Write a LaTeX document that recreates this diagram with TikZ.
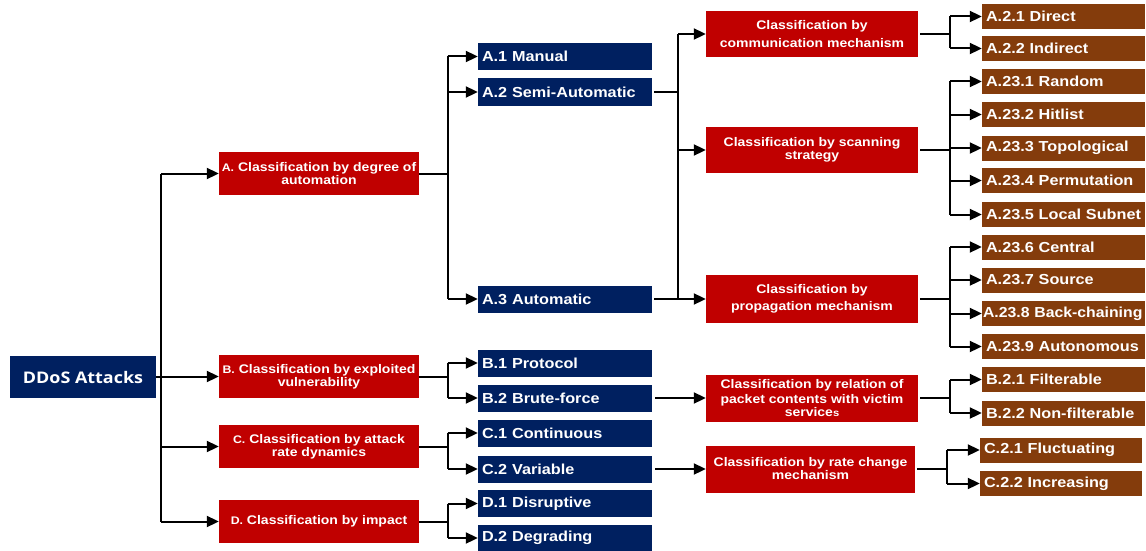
\documentclass[tikz,border=0pt]{standalone}
\usepackage{fontspec}
\setmainfont{Liberation Sans}
\newfontfamily\boxfont[FakeStretch=1.12]{Liberation Sans}
\newfontfamily\ddosfont[FakeStretch=1.12]{Open Sans}
\usetikzlibrary{arrows.meta}
\definecolor{cnavy}{HTML}{002060}
\definecolor{cred}{HTML}{C00000}
\definecolor{cbrown}{HTML}{843C0C}
\newcommand{\smalllead}[1]{{\fontsize{11}{13}\selectfont #1}}
\tikzset{
  basebox/.style={inner sep=0pt, text=white},
  redbox/.style={basebox, fill=cred, align=center, minimum width=200pt, minimum height=43pt,
    font=\boxfont\bfseries\fontsize{12.5}{13}\selectfont},
  bluebox/.style={basebox, fill=cnavy, inner xsep=4pt, text width=166pt, align=left,
    minimum height=27pt, font=\boxfont\bfseries\fontsize{14.5}{16}\selectfont},
  brownbox/.style={basebox, fill=cbrown, inner xsep=4pt, text width=155pt, align=left,
    minimum height=25pt, font=\boxfont\bfseries\fontsize{14.5}{16}\selectfont},
  ddosbox/.style={basebox, fill=cnavy, minimum width=146pt, minimum height=42pt,
    font=\ddosfont\bfseries\fontsize{16}{18}\selectfont},
  link/.style={line width=2pt, black},
  arr/.style={link, -{Triangle[length=12pt,width=11pt]}}
}
\begin{document}
\begin{tikzpicture}[x=1pt,y=-1pt]
\useasboundingbox (0,0) rectangle (1146,551);
% level 0
\node[ddosbox] (DD) at (83,377) {DDoS Attacks};
% level 1
\node[redbox] (A) at (319,173.5) {\smalllead{A.} Classification by degree of\\automation};
\node[redbox] (B) at (319,376.5) {\smalllead{B.} Classification by exploited\\vulnerability};
\node[redbox] (C) at (319,446.5) {\smalllead{C.} Classification by attack\\rate dynamics};
\node[redbox] (D) at (319,521.5) {\smalllead{D.} Classification by impact};
% level 2
\node[bluebox] (A1) at (565,56.5) {A.1 Manual};
\node[bluebox] (A2) at (565,92) {A.2 Semi-Automatic};
\node[bluebox] (A3) at (565,299) {A.3 Automatic};
\node[bluebox] (B1) at (565,363) {B.1 Protocol};
\node[bluebox] (B2) at (565,398) {B.2 Brute-force};
\node[bluebox] (C1) at (565,433) {C.1 Continuous};
\node[bluebox] (C2) at (565,469) {C.2 Variable};
\node[bluebox] (D1) at (565,503.5) {D.1 Disruptive};
\node[bluebox] (D2) at (565,538) {D.2 Degrading};
% level 3
\node[redbox, minimum width=212pt, minimum height=46pt] (Comm) at (812,34) {Classification by\\[5pt]communication mechanism};
\node[redbox, minimum width=212pt, minimum height=46pt] (Scan) at (812,150) {Classification by scanning\\strategy};
\node[redbox, minimum width=212pt, minimum height=48pt] (Prop) at (812,299) {Classification by\\[4pt]propagation mechanism};
\node[redbox, minimum width=212pt, minimum height=47pt] (Rel) at (812,398) {Classification by relation of\\[1.5pt]packet contents with victim\\service{\fontsize{10}{13}\selectfont s}};
\node[redbox, minimum width=209pt, minimum height=47pt] (Rate) at (810.5,469) {Classification by rate change\\mechanism};
% level 4
\node[brownbox] (A21) at (1063.5,16.5) {A.2.1 Direct};
\node[brownbox] (A22) at (1063.5,48.5) {A.2.2 Indirect};
\node[brownbox] (A231) at (1063.5,81.5) {A.23.1 Random};
\node[brownbox] (A232) at (1063.5,114.5) {A.23.2 Hitlist};
\node[brownbox] (A233) at (1063.5,148) {A.23.3 Topological};
\node[brownbox] (A234) at (1063.5,180.5) {A.23.4 Permutation};
\node[brownbox] (A235) at (1063.5,214.5) {A.23.5 Local Subnet};
\node[brownbox] (A236) at (1063.5,247) {A.23.6 Central};
\node[brownbox] (A237) at (1063.5,280) {A.23.7 Source};
\node[brownbox, inner xsep=1pt, text width=161pt] (A238) at (1063.5,313.5) {\makebox[161pt][l]{\addfontfeature{FakeStretch=1.09}A.23.8 Back-chaining}};
\node[brownbox] (A239) at (1063.5,346.5) {A.23.9 Autonomous};
\node[brownbox] (B21) at (1063.5,379.5) {B.2.1 Filterable};
\node[brownbox] (B22) at (1063.5,413) {B.2.2 Non-filterable};
\node[brownbox, text width=154pt] (C21) at (1061,450) {C.2.1 Fluctuating};
\node[brownbox, text width=154pt] (C22) at (1061,483.5) {C.2.2 Increasing};
% branch x positions
\coordinate (t0) at (161,0);
\coordinate (ta) at (447.5,0);
\coordinate (tb) at (678,0);
\coordinate (tc) at (950,0);
\coordinate (td) at (947,0);
% root connectors
\draw[link] (DD.east) -- (DD.east -| t0);
\draw[link] (A.west -| t0) -- (D.west -| t0);
\foreach \n in {A,B,C,D} \draw[arr] (\n.west -| t0) -- (\n.west);
% A -> A1..A3
\draw[link] (A.east) -- (A.east -| ta);
\draw[link] (A1.west -| ta) -- (A3.west -| ta);
\foreach \n in {A1,A2,A3} \draw[arr] (\n.west -| ta) -- (\n.west);
% B, C, D
\draw[link] (B.east) -- (B.east -| ta);
\draw[link] (B1.west -| ta) -- (B2.west -| ta);
\foreach \n in {B1,B2} \draw[arr] (\n.west -| ta) -- (\n.west);
\draw[link] (C.east) -- (C.east -| ta);
\draw[link] (C1.west -| ta) -- (C2.west -| ta);
\foreach \n in {C1,C2} \draw[arr] (\n.west -| ta) -- (\n.west);
\draw[link] (D.east) -- (D.east -| ta);
\draw[link] (D1.west -| ta) -- (D2.west -| ta);
\foreach \n in {D1,D2} \draw[arr] (\n.west -| ta) -- (\n.west);
% A2, A3 -> Comm, Scan, Prop
\draw[link] ([xshift=2pt]A2.east) -- (A2.east -| tb);
\draw[link] ([xshift=2pt]A3.east) -- (A3.east -| tb);
\draw[link] (Comm.west -| tb) -- (Prop.west -| tb);
\foreach \n in {Comm,Scan,Prop} \draw[arr] (\n.west -| tb) -- (\n.west);
% B2 -> Rel, C2 -> Rate
\draw[arr] ([xshift=3pt]B2.east) -- (Rel.west);
\draw[arr] ([xshift=3pt]C2.east) -- (Rate.west);
% level 3 -> level 4
\draw[link] ([xshift=2pt]Comm.east) -- (Comm.east -| tc);
\draw[link] (A21.west -| tc) -- (A22.west -| tc);
\foreach \n in {A21,A22} \draw[arr] (\n.west -| tc) -- (\n.west);
\draw[link] ([xshift=2pt]Scan.east) -- (Scan.east -| tc);
\draw[link] (A231.west -| tc) -- (A235.west -| tc);
\foreach \n in {A231,A232,A233,A234,A235} \draw[arr] (\n.west -| tc) -- (\n.west);
\draw[link] ([xshift=2pt]Prop.east) -- (Prop.east -| tc);
\draw[link] (A236.west -| tc) -- (A239.west -| tc);
\foreach \n in {A236,A237,A238,A239} \draw[arr] (\n.west -| tc) -- (\n.west);
\draw[link] ([xshift=2pt]Rel.east) -- (Rel.east -| tc);
\draw[link] (B21.west -| tc) -- (B22.west -| tc);
\foreach \n in {B21,B22} \draw[arr] (\n.west -| tc) -- (\n.west);
\draw[link] ([xshift=2pt]Rate.east) -- (Rate.east -| td);
\draw[link] (C21.west -| td) -- (C22.west -| td);
\foreach \n in {C21,C22} \draw[arr] (\n.west -| td) -- (\n.west);
\end{tikzpicture}
\end{document}
